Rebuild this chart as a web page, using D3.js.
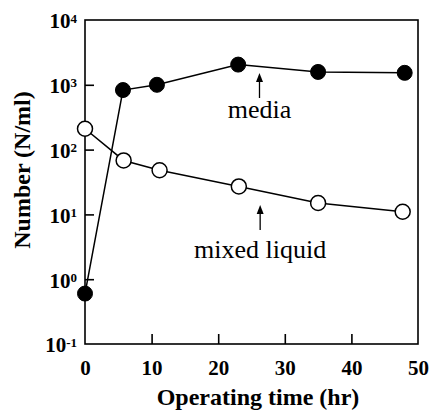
<!DOCTYPE html>
<html><head><meta charset="utf-8">
<script src="https://cdn.jsdelivr.net/npm/d3@7"></script>
<style>body{margin:0;background:#fff}svg{display:block}</style>
</head><body>
<script>
const mediaX = [0, 5.7, 10.8, 23, 35, 48];
const mediaY = [0.6, 830, 1000, 2050, 1580, 1530];
const mixedX = [0, 5.8, 11.2, 23.1, 35, 47.7];
const mixedY = [210, 68, 48, 27, 15, 11];
const xTicks = [0, 10, 20, 30, 40, 50];
const yTickExps = [-1, 0, 1, 2, 3, 4];

const W = 434, H = 412;
const svg = d3.select("body").append("svg").attr("width", W).attr("height", H);
const x = d3.scaleLinear().domain([0, 50]).range([85, 418]);
const y = d3.scaleLog().domain([0.1, 10000]).range([344, 20]);
const font = "'Liberation Serif', 'Times New Roman', serif";

// frame
svg.append("rect").attr("x", 85).attr("y", 20).attr("width", 333).attr("height", 324)
  .attr("fill", "none").attr("stroke", "#000").attr("stroke-width", 1.6);

// x axis ticks (inward)
const xAxis = d3.axisBottom(x).tickValues(xTicks).tickSize(-10).tickFormat(d3.format("d"));
const gx = svg.append("g").attr("transform", "translate(0,344)").call(xAxis);
gx.select(".domain").remove();
gx.selectAll(".tick line").attr("stroke-width", 1.6);
gx.selectAll(".tick text").attr("y", 12).attr("dy", "0.9em")
  .style("font-family", font).style("font-size", "21px").style("font-weight", "bold").attr("fill", "#000");
gx.selectAll(".tick").filter(d => d === 0 || d === 50).select("line").remove();

// y axis ticks (inward)
const yAxis = d3.axisLeft(y).tickValues(yTickExps.map(e => Math.pow(10, e))).tickSize(-9).tickFormat("");
const gy = svg.append("g").attr("transform", "translate(85,0)").call(yAxis);
gy.select(".domain").remove();
gy.selectAll(".tick line").attr("stroke-width", 1.6);
gy.selectAll(".tick").filter(d => d === 0.1 || d === 10000).select("line").remove();
gy.selectAll(".tick").each(function(d, i) {
  const t = d3.select(this).append("text").attr("x", -8).attr("dy", "0.38em")
    .attr("text-anchor", "end").attr("fill", "#000")
    .style("font-family", font).style("font-weight", "bold").style("font-size", "21px");
  t.append("tspan").text("10");
  t.append("tspan").attr("dy", "-0.45em").style("font-size", "13px").text(String(yTickExps[i]));
});

// lines
const line = d3.line().x(d => x(d[0])).y(d => y(d[1]));
const mediaData = mediaX.map((v, i) => [v, mediaY[i]]);
const mixedData = mixedX.map((v, i) => [v, mixedY[i]]);
svg.append("path").datum(mediaData).attr("d", line).attr("fill", "none").attr("stroke", "#000").attr("stroke-width", 1.5);
svg.append("path").datum(mixedData).attr("d", line).attr("fill", "none").attr("stroke", "#000").attr("stroke-width", 1.5);

svg.append("g").selectAll("circle").data(mixedData).join("circle")
  .attr("cx", d => x(d[0])).attr("cy", d => y(d[1])).attr("r", 7.5)
  .attr("fill", "#fff").attr("stroke", "#000").attr("stroke-width", 1.5);
svg.append("g").selectAll("circle").data(mediaData).join("circle")
  .attr("cx", d => x(d[0])).attr("cy", d => y(d[1])).attr("r", 7.5)
  .attr("fill", "#000").attr("stroke", "#000").attr("stroke-width", 1);

// annotations
function annot(ax, tipY, botY, label, ty) {
  svg.append("line").attr("x1", ax).attr("x2", ax).attr("y1", botY).attr("y2", tipY + 6)
    .attr("stroke", "#000").attr("stroke-width", 1.3);
  svg.append("path").attr("d", `M${ax},${tipY} L${ax - 3.5},${tipY + 9} L${ax + 3.5},${tipY + 9} Z`)
    .attr("fill", "#000");
  svg.append("text").attr("x", ax).attr("y", ty).attr("text-anchor", "middle")
    .style("font-family", font).style("font-size", "26px").attr("fill", "#000").text(label);
}
annot(x(26.2), 73, 98, "media", 118);
annot(x(26.3), 205, 230, "mixed liquid", 258);

// axis titles
svg.append("text").attr("x", 258).attr("y", 405).attr("text-anchor", "middle")
  .style("font-family", font).style("font-size", "24px").style("font-weight", "bold").attr("fill", "#000")
  .text("Operating time (hr)");
svg.append("text").attr("transform", "translate(30,170) rotate(-90)").attr("text-anchor", "middle")
  .style("font-family", font).style("font-size", "24px").style("font-weight", "bold").attr("fill", "#000")
  .text("Number (N/ml)");
</script>
</body></html>
